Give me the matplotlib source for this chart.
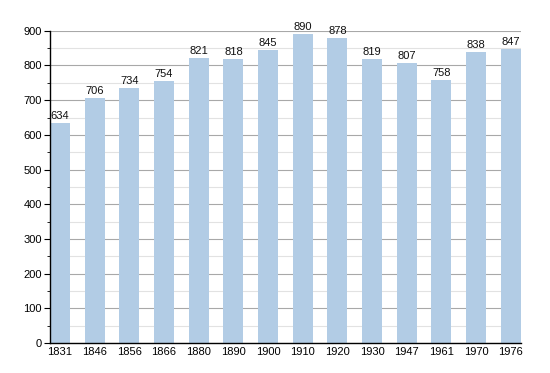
import matplotlib
matplotlib.use("Agg")
import matplotlib.pyplot as plt
from matplotlib.ticker import MultipleLocator

years = ["1831", "1846", "1856", "1866", "1880", "1890", "1900",
         "1910", "1920", "1930", "1947", "1961", "1970", "1976"]
population = [634, 706, 734, 754, 821, 818, 845, 890, 878, 819, 807, 758, 838, 847]

plt.rcParams["font.family"] = ["Liberation Sans", "DejaVu Sans"]

fig = plt.figure(figsize=(5.5, 3.73), dpi=100)
ax = fig.add_axes([0.0909, 0.0804, 0.856, 0.837])

x = range(len(years))
ax.bar(x, population, width=0.58, color="#b2cce5", zorder=2)

# value labels on top of each bar
for xi, v in zip(x, population):
    ax.text(xi, v + 6, str(v), ha="center", va="bottom", fontsize=8, color="#111111", zorder=3)

ax.set_xlim(-0.29, len(years) - 1 + 0.29)
ax.set_ylim(0, 900)
ax.yaxis.set_major_locator(MultipleLocator(100))
ax.yaxis.set_minor_locator(MultipleLocator(50))
ax.grid(axis="y", which="major", color="#a8a8a8", lw=0.8, zorder=0)
ax.grid(axis="y", which="minor", color="#e2e2e2", lw=0.8, zorder=0)

ax.set_xticks(list(x))
ax.set_xticklabels(years)
ax.tick_params(axis="x", length=0, labelsize=8, pad=3)
ax.tick_params(axis="y", which="major", length=4, labelsize=8, pad=2)
ax.tick_params(axis="y", which="minor", length=2)

for s in ["top", "right"]:
    ax.spines[s].set_visible(False)
ax.spines["left"].set_linewidth(1.0)
ax.spines["bottom"].set_linewidth(1.0)

fig.savefig("out.png", dpi=100)
